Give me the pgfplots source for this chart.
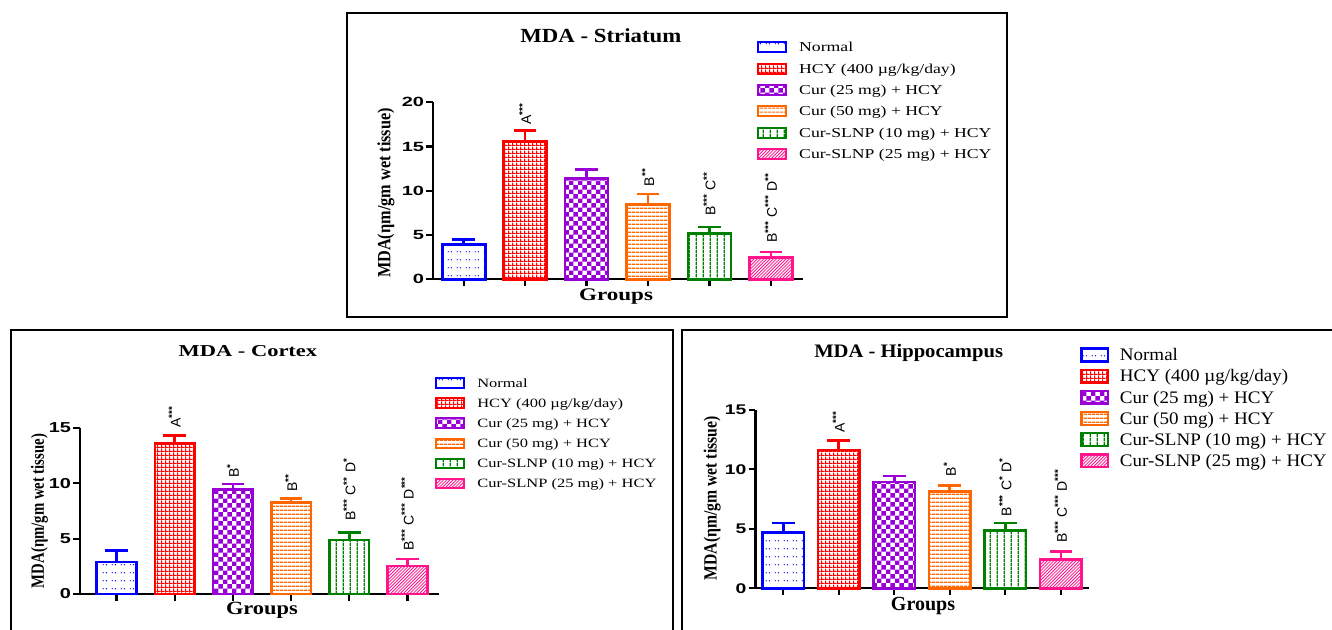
\documentclass[border=0pt]{standalone}
\usepackage{fontspec}
\setmainfont{Liberation Serif}
\newfontfamily\serA[FakeStretch=1.14]{Liberation Serif}
\newfontfamily\serB[FakeStretch=1.3]{Liberation Serif}
\newfontfamily\serC[FakeStretch=1.08]{Liberation Serif}
\newfontfamily\serD[FakeStretch=1.2]{Liberation Serif}
\newfontfamily\serE[FakeStretch=1.35]{Liberation Serif}
\newfontfamily\yA[FakeStretch=0.87]{Liberation Serif}
\newfontfamily\yB[FakeStretch=0.79]{Liberation Serif}
\newfontfamily\yC[FakeStretch=0.84]{Liberation Serif}
\newfontfamily\kA[FakeStretch=1.5]{Liberation Sans}
\newfontfamily\kB[FakeStretch=1.38]{Liberation Sans}
\newfontfamily\ann{Liberation Sans}
\usepackage{pgfplots}
\pgfplotsset{compat=1.18}
\usetikzlibrary{patterns}

\definecolor{cBlue}{RGB}{0,0,255}
\definecolor{cRed}{RGB}{255,0,0}
\definecolor{cPur}{RGB}{153,0,214}
\definecolor{cOra}{RGB}{255,102,0}
\definecolor{cGre}{RGB}{0,128,0}
\definecolor{cPink}{RGB}{255,20,140}

\pgfdeclarepatternformonly{pNormal}{\pgfqpoint{0pt}{0pt}}{\pgfqpoint{7pt}{6pt}}{\pgfqpoint{7pt}{6pt}}{%
  \pgfpathcircle{\pgfqpoint{1pt}{1pt}}{0.55pt}%
  \pgfpathcircle{\pgfqpoint{3.5pt}{1pt}}{0.55pt}%
  \pgfusepath{fill}}
\pgfdeclarepatternformonly{pHCY}{\pgfqpoint{0pt}{0pt}}{\pgfqpoint{2.8pt}{2.8pt}}{\pgfqpoint{2.8pt}{2.8pt}}{%
  \pgfpathrectangle{\pgfqpoint{0pt}{0pt}}{\pgfqpoint{2.8pt}{0.9pt}}%
  \pgfpathrectangle{\pgfqpoint{0pt}{0pt}}{\pgfqpoint{0.9pt}{2.8pt}}%
  \pgfusepath{fill}}
\pgfdeclarepatternformonly{pCheck}{\pgfqpoint{0pt}{0pt}}{\pgfqpoint{7pt}{7pt}}{\pgfqpoint{7pt}{7pt}}{%
  \pgfpathrectangle{\pgfqpoint{0pt}{0pt}}{\pgfqpoint{3.5pt}{3.5pt}}%
  \pgfpathrectangle{\pgfqpoint{3.5pt}{3.5pt}}{\pgfqpoint{3.5pt}{3.5pt}}%
  \pgfusepath{fill}}
\pgfdeclarepatternformonly{pHor}{\pgfqpoint{0pt}{0pt}}{\pgfqpoint{3pt}{2.8pt}}{\pgfqpoint{3pt}{2.8pt}}{%
  \pgfsetlinewidth{0.9pt}%
  \pgfpathmoveto{\pgfqpoint{0pt}{1.4pt}}\pgfpathlineto{\pgfqpoint{3pt}{1.4pt}}%
  \pgfusepath{stroke}}
\pgfdeclarepatternformonly{pVer}{\pgfqpoint{0pt}{0pt}}{\pgfqpoint{5pt}{3pt}}{\pgfqpoint{5pt}{3pt}}{%
  \pgfsetlinewidth{0.9pt}%
  \pgfpathmoveto{\pgfqpoint{2.5pt}{0pt}}\pgfpathlineto{\pgfqpoint{2.5pt}{3pt}}%
  \pgfusepath{stroke}}
\pgfdeclarepatternformonly{pNE}{\pgfqpoint{-0.5pt}{-0.5pt}}{\pgfqpoint{2.9pt}{2.9pt}}{\pgfqpoint{2.4pt}{2.4pt}}{%
  \pgfsetlinewidth{0.6pt}%
  \pgfpathmoveto{\pgfqpoint{0pt}{0pt}}\pgfpathlineto{\pgfqpoint{2.5pt}{2.5pt}}%
  \pgfusepath{stroke}}

\tikzset{an/.style={rotate=90, anchor=west, inner sep=0pt, font=\ann\fontsize{10.5}{12}\selectfont}}
\pgfplotsset{
  panel/.style={scale only axis, anchor=south west,
    axis x line*=bottom, axis y line*=left,
    axis line style={line width=1.7pt, black},
    tick align=outside, major tick length=5pt,
    every tick/.style={black, line width=1.7pt},
    xtick={0,...,5}, xticklabels={}, ymin=0, clip=false,
    /pgf/number format/assume math mode=true,
    legend cell align=left},
  eb/.style={error bars/y dir=plus, error bars/y explicit,
    error bars/error bar style={line width=2pt, #1},
    error bars/error mark options={rotate=90, line width=2pt, #1, mark size=8.5pt}},
  bN/.style={ybar, bar shift=0pt, draw=cBlue, line width=2pt, pattern=pNormal, pattern color=cBlue, eb=cBlue},
  bH/.style={ybar, bar shift=0pt, draw=cRed, line width=2pt, pattern=pHCY, pattern color=cRed, eb=cRed},
  bP/.style={ybar, bar shift=0pt, draw=cPur, line width=2pt, pattern=pCheck, pattern color=cPur, eb=cPur},
  bO/.style={ybar, bar shift=0pt, draw=cOra, line width=2pt, pattern=pHor, pattern color=cOra, eb=cOra},
  bG/.style={ybar, bar shift=0pt, draw=cGre, line width=2pt, pattern=pVer, pattern color=cGre, eb=cGre},
  bK/.style={ybar, bar shift=0pt, draw=cPink, line width=2pt, pattern=pNE, pattern color=cPink, eb=cPink},
  legA/.style={legend image code/.code={\draw[##1, line width=1.5pt] (0pt,-2.8pt) rectangle (21pt,4.7pt);}},
  legB/.style={legend image code/.code={\draw[##1, line width=1.5pt] (0pt,-2.6pt) rectangle (21pt,4.4pt);}},
  legC/.style={legend image code/.code={\draw[##1, line width=1.8pt] (0pt,-3.6pt) rectangle (20pt,5.9pt);}},
}
\newcommand{\st}[1]{\textsuperscript{\bfseries #1}}

\begin{document}
\begin{tikzpicture}
\begin{scope}[x=0.75pt,y=-0.75pt]
\path[use as bounding box] (0,0) rectangle (1332,629);
\coordinate (OA) at (433,279.3);
\coordinate (OB) at (79.8,594);
\coordinate (OC) at (755.4,588.3);
\draw[line width=1.5pt] (347,12.5) rectangle (1006.5,317.3);
\draw[line width=1.5pt] (11,640) -- (11,330) -- (673.3,330) -- (673.3,640);
\draw[line width=1.5pt] (681.7,640) -- (681.7,330) -- (1340,330);
\end{scope}

% ---------------- Striatum ----------------
\begin{axis}[panel, at={(OA)}, width=277.35pt, height=132.75pt,
  xmin=-0.5, xmax=5.52, ymax=20, ytick={0,5,10,15,20},
  yticklabel style={inner sep=1.5pt, font=\kA\bfseries\fontsize{10}{11}\selectfont},
  title={MDA - Striatum},
  title style={at={(axis description cs:0.454,1.332)}, anchor=center, font=\serA\bfseries\fontsize{15}{17}\selectfont},
  xlabel={Groups},
  xlabel style={at={(axis description cs:0.495,-0.1)}, anchor=center, font=\serB\bfseries\fontsize{13.3}{15}\selectfont},
  ylabel={MDA(ηm/gm wet tissue)},
  ylabel style={at={(axis description cs:-0.127,0.488)}, anchor=center, font=\yA\bfseries\fontsize{14}{16}\selectfont},
  legend style={draw=none, fill=none, inner sep=0pt, at={(axis description cs:0.876,1.347)}, anchor=north west,
    row sep=5.875pt, column sep=9pt,
    nodes={inner sep=0pt, text height=7.2pt, text depth=2.3pt, font=\serB\fontsize{10.2}{12}\selectfont}},
]
\addplot[bN, bar width=0.7, legA] coordinates {(0,3.9) +- (0,0.57)};
\addlegendentry{Normal}
\addplot[bH, bar width=0.7, legA] coordinates {(1,15.6) +- (0,1.2)};
\addlegendentry{HCY (400 µg/kg/day)}
\addplot[bP, bar width=0.7, legA] coordinates {(2,11.37) +- (0,1.03)};
\addlegendentry{Cur (25 mg) + HCY}
\addplot[bO, bar width=0.7, legA] coordinates {(3,8.43) +- (0,1.21)};
\addlegendentry{Cur (50 mg) + HCY}
\addplot[bG, bar width=0.7, legA] coordinates {(4,5.14) +- (0,0.76)};
\addlegendentry{Cur-SLNP (10 mg) + HCY}
\addplot[bK, bar width=0.7, legA] coordinates {(5,2.5) +- (0,0.6)};
\addlegendentry{Cur-SLNP (25 mg) + HCY}
\node[an] at (axis cs:1,17.43) {A\st{***}};
\node[an] at (axis cs:3,10.5) {B\st{**}};
\node[an] at (axis cs:4,7.16) {B\st{***} C\st{**}};
\node[an] at (axis cs:5,4.1) {B\st{***} C\st{***} D\st{**}};
\end{axis}

% ---------------- Cortex ----------------
\begin{axis}[panel, at={(OB)}, width=269.4pt, height=124.5pt,
  xmin=-0.63, xmax=5.54, ymax=15, ytick={0,5,10,15},
  yticklabel style={inner sep=1.5pt, font=\kB\bfseries\fontsize{10.8}{12}\selectfont},
  title={MDA - Cortex},
  title style={at={(axis description cs:0.468,1.417)}, anchor=center, font=\serE\bfseries\fontsize{12.5}{14}\selectfont},
  xlabel={Groups},
  xlabel style={at={(axis description cs:0.507,-0.1)}, anchor=center, font=\serD\bfseries\fontsize{14}{16}\selectfont},
  ylabel={MDA(ηm/gm wet tissue)},
  ylabel style={at={(axis description cs:-0.112,0.5)}, anchor=center, font=\yB\bfseries\fontsize{14}{16}\selectfont},
  legend style={draw=none, fill=none, inner sep=0pt, at={(axis description cs:0.989,1.307)}, anchor=north west,
    row sep=5.4pt, column sep=9pt,
    nodes={inner sep=0pt, text height=6.8pt, text depth=2.2pt, font=\serB\fontsize{9.5}{11}\selectfont}},
]
\addplot[bN, bar width=0.68, legB] coordinates {(0,2.89) +- (0,1.06)};
\addlegendentry{Normal}
\addplot[bH, bar width=0.68, legB] coordinates {(1,13.6) +- (0,0.7)};
\addlegendentry{HCY (400 µg/kg/day)}
\addplot[bP, bar width=0.68, legB] coordinates {(2,9.42) +- (0,0.52)};
\addlegendentry{Cur (25 mg) + HCY}
\addplot[bO, bar width=0.68, legB] coordinates {(3,8.25) +- (0,0.36)};
\addlegendentry{Cur (50 mg) + HCY}
\addplot[bG, bar width=0.68, legB] coordinates {(4,4.88) +- (0,0.66)};
\addlegendentry{Cur-SLNP (10 mg) + HCY}
\addplot[bK, bar width=0.68, legB] coordinates {(5,2.53) +- (0,0.63)};
\addlegendentry{Cur-SLNP (25 mg) + HCY}
\node[an] at (axis cs:1,15.0) {A\st{***}};
\node[an] at (axis cs:2,10.48) {B\st{*}};
\node[an] at (axis cs:3,9.2) {B\st{**}};
\node[an] at (axis cs:4,6.62) {B\st{***} C\st{**} D\st{*}};
\node[an] at (axis cs:5,3.91) {B\st{***} C\st{***} D\st{***}};
\end{axis}

% ---------------- Hippocampus ----------------
\begin{axis}[panel, at={(OC)}, width=249.9pt, height=133.95pt,
  xmin=-0.5, xmax=5.5, ymax=15, ytick={0,5,10,15},
  yticklabel style={inner sep=1.5pt, font=\kB\bfseries\fontsize{10.5}{12}\selectfont},
  title={MDA - Hippocampus},
  title style={at={(axis description cs:0.46,1.271)}, anchor=center, font=\serC\bfseries\fontsize{14.3}{16}\selectfont},
  xlabel={Groups},
  xlabel style={at={(axis description cs:0.503,-0.1)}, anchor=center, font=\bfseries\fontsize{15}{17}\selectfont},
  ylabel={MDA(ηm/gm wet tissue)},
  ylabel style={at={(axis description cs:-0.130,0.503)}, anchor=center, font=\yC\bfseries\fontsize{14}{16}\selectfont},
  legend style={draw=none, fill=none, inner sep=0pt, at={(axis description cs:0.974,1.35)}, anchor=north west,
    row sep=2.9pt, column sep=8pt,
    nodes={inner sep=0pt, text height=9.3pt, text depth=3pt, font=\serC\fontsize{13.2}{15}\selectfont}},
]
\addplot[bN, bar width=0.75, legC] coordinates {(0,4.67) +- (0,0.81)};
\addlegendentry{Normal}
\addplot[bH, bar width=0.75, legC] coordinates {(1,11.61) +- (0,0.82)};
\addlegendentry{HCY (400 µg/kg/day)}
\addplot[bP, bar width=0.75, legC] coordinates {(2,8.93) +- (0,0.5)};
\addlegendentry{Cur (25 mg) + HCY}
\addplot[bO, bar width=0.75, legC] coordinates {(3,8.11) +- (0,0.54)};
\addlegendentry{Cur (50 mg) + HCY}
\addplot[bG, bar width=0.75, legC] coordinates {(4,4.84) +- (0,0.64)};
\addlegendentry{Cur-SLNP (10 mg) + HCY}
\addplot[bK, bar width=0.75, legC] coordinates {(5,2.43) +- (0,0.65)};
\addlegendentry{Cur-SLNP (25 mg) + HCY}
\node[an] at (axis cs:1,13.04) {A\st{***}};
\node[an] at (axis cs:3,9.4) {B\st{*}};
\node[an] at (axis cs:4,6.05) {B\st{***} C\st{*} D\st{*}};
\node[an] at (axis cs:5,3.8) {B\st{***} C\st{***} D\st{***}};
\end{axis}
\end{tikzpicture}
\end{document}
